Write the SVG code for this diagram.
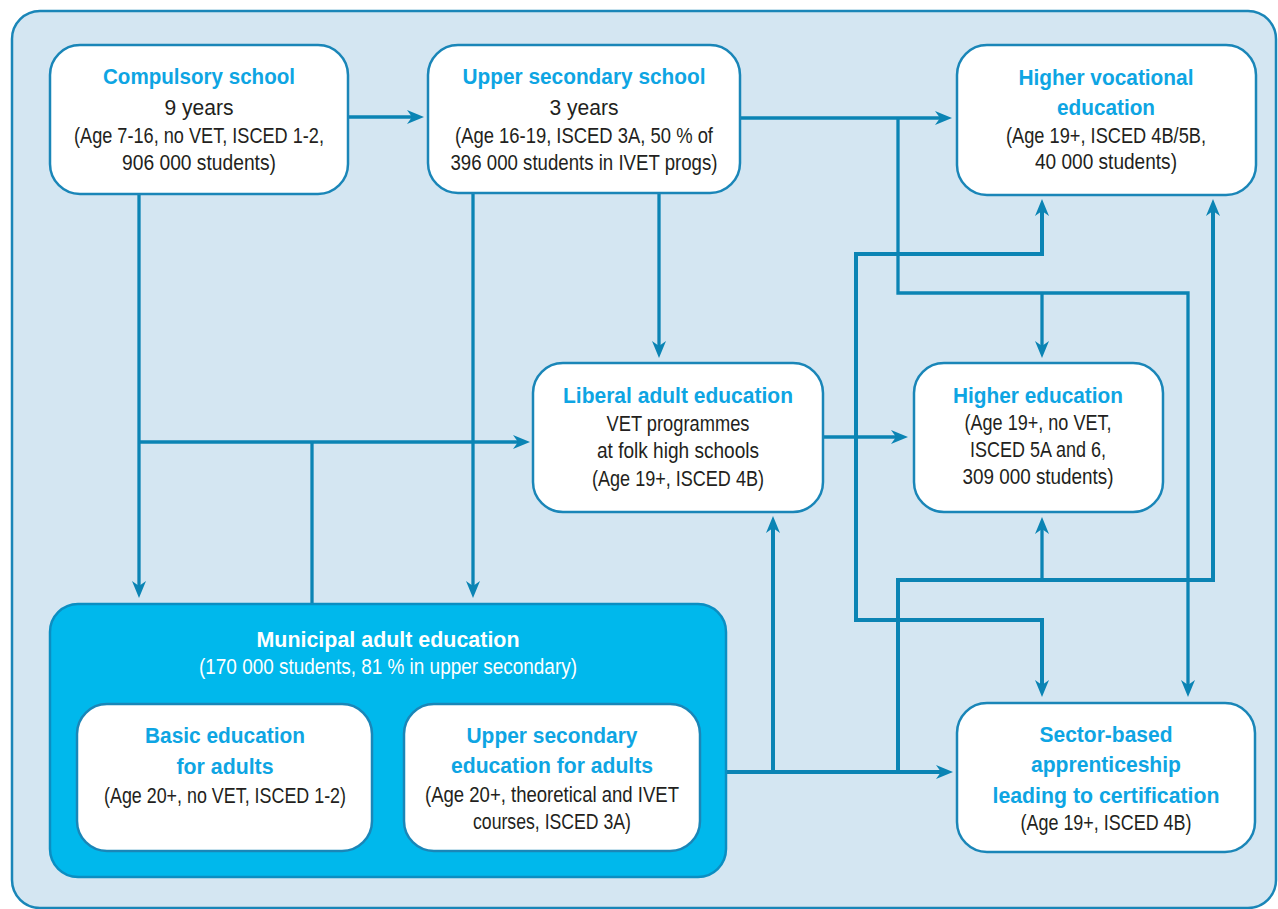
<svg xmlns="http://www.w3.org/2000/svg" width="1278" height="909" viewBox="0 0 1278 909">
  <style>
    .frame { fill: #d4e6f2; stroke: #1a86b8; stroke-width: 2.5; }
    .box { fill: #ffffff; stroke: #1a86b8; stroke-width: 2.5; }
    .hub { fill: #00b8ec; stroke: #0b8ec2; stroke-width: 2.5; }
    text { font-family: "Liberation Sans Narrow", "Liberation Sans", Arial, sans-serif; text-anchor: middle; }
    .t { font-size: 22.5px; font-weight: bold; fill: #0ea5e3; }
    .b { font-size: 22px; fill: #231f20; }
    .tw { font-size: 22.5px; font-weight: bold; fill: #ffffff; }
    .bw { font-size: 22px; fill: #ffffff; }
    .link { fill: none; stroke: #0b84b4; stroke-width: 3.3; marker-end: url(#ah); }
    .link.plain { marker-end: none; }
    .link.both { marker-start: url(#ah); }
    .link.thick { stroke-width: 4; }
  </style>
  <defs>
    <!-- notched arrowhead; refX puts the line end at the notch so the tip stays sharp -->
    <marker id="ah" viewBox="-18 -8 19 16" refX="-12" refY="0" markerWidth="19" markerHeight="16" markerUnits="userSpaceOnUse" orient="auto-start-reverse">
      <path d="M0,0 L-17,-7 L-12,0 L-17,7 Z" fill="#0b84b4"/>
    </marker>
  </defs>

  <!-- background panel -->
  <rect class="frame" x="12" y="11" width="1264" height="897" rx="28"/>

  <!-- connectors -->
  <g id="connectors">
    <path class="link" d="M348,117 H412"/>
    <path class="link" d="M740,118 H940"/>
    <path class="link" d="M898,118 V293 H1188 V685"/>
    <path class="link" d="M1042,293 V346"/>
    <path class="link" d="M659,193 V346"/>
    <path class="link" d="M473,193 V586"/>
    <path class="link" d="M139,194 V586"/>
    <path class="link" d="M139,442 H518"/>
    <path class="link plain" d="M312,604 V442"/>
    <path class="link thick" d="M726,772 H941"/>
    <path class="link thick" d="M773,772 V528"/>
    <path class="link thick" d="M898,772 V580 H1213 V211"/>
    <path class="link" d="M1042,580 V529"/>
    <path class="link" d="M823,437 H896"/>
    <path class="link both thick" d="M1042,211 V254 H856 V620 H1042 V685"/>
  </g>

  <g id="compulsory-school">
    <rect class="box" x="50" y="45" width="298" height="149" rx="30"/>
    <text class="t" x="199" y="84" textLength="192" lengthAdjust="spacingAndGlyphs">Compulsory school</text>
    <text class="b" x="199" y="115" textLength="69" lengthAdjust="spacingAndGlyphs">9 years</text>
    <text class="b" x="199" y="143" textLength="250" lengthAdjust="spacingAndGlyphs">(Age 7-16, no VET, ISCED 1-2,</text>
    <text class="b" x="199" y="170" textLength="154" lengthAdjust="spacingAndGlyphs">906 000 students)</text>
  </g>

  <g id="upper-secondary-school">
    <rect class="box" x="428" y="45" width="312" height="148" rx="30"/>
    <text class="t" x="584" y="84" textLength="243" lengthAdjust="spacingAndGlyphs">Upper secondary school</text>
    <text class="b" x="584" y="115" textLength="69" lengthAdjust="spacingAndGlyphs">3 years</text>
    <text class="b" x="584" y="143" textLength="258" lengthAdjust="spacingAndGlyphs">(Age 16-19, ISCED 3A, 50 % of</text>
    <text class="b" x="584" y="170" textLength="267" lengthAdjust="spacingAndGlyphs">396 000 students in IVET progs)</text>
  </g>

  <g id="higher-vocational-education">
    <rect class="box" x="957" y="45" width="299" height="150" rx="30"/>
    <text class="t" x="1106" y="85" textLength="175" lengthAdjust="spacingAndGlyphs">Higher vocational</text>
    <text class="t" x="1106" y="115" textLength="98" lengthAdjust="spacingAndGlyphs">education</text>
    <text class="b" x="1106" y="143" textLength="200" lengthAdjust="spacingAndGlyphs">(Age 19+, ISCED 4B/5B,</text>
    <text class="b" x="1106" y="169" textLength="142" lengthAdjust="spacingAndGlyphs">40 000 students)</text>
  </g>

  <g id="liberal-adult-education">
    <rect class="box" x="533" y="363" width="290" height="149" rx="30"/>
    <text class="t" x="678" y="403" textLength="230" lengthAdjust="spacingAndGlyphs">Liberal adult education</text>
    <text class="b" x="678" y="431" textLength="143" lengthAdjust="spacingAndGlyphs">VET programmes</text>
    <text class="b" x="678" y="458" textLength="162" lengthAdjust="spacingAndGlyphs">at folk high schools</text>
    <text class="b" x="678" y="486" textLength="172" lengthAdjust="spacingAndGlyphs">(Age 19+, ISCED 4B)</text>
  </g>

  <g id="higher-education">
    <rect class="box" x="914" y="363" width="249" height="149" rx="30"/>
    <text class="t" x="1038" y="403" textLength="170" lengthAdjust="spacingAndGlyphs">Higher education</text>
    <text class="b" x="1038" y="430" textLength="147" lengthAdjust="spacingAndGlyphs">(Age 19+, no VET,</text>
    <text class="b" x="1038" y="457" textLength="136" lengthAdjust="spacingAndGlyphs">ISCED 5A and 6,</text>
    <text class="b" x="1038" y="484" textLength="151" lengthAdjust="spacingAndGlyphs">309 000 students)</text>
  </g>

  <g id="municipal-adult-education">
    <rect class="hub" x="50" y="604" width="676" height="273" rx="28"/>
    <text class="tw" x="388" y="647" textLength="263" lengthAdjust="spacingAndGlyphs">Municipal adult education</text>
    <text class="bw" x="388" y="674" textLength="378" lengthAdjust="spacingAndGlyphs">(170 000 students, 81 % in upper secondary)</text>
  </g>

  <g id="basic-education-for-adults">
    <rect class="box" x="77" y="704" width="295" height="147" rx="30"/>
    <text class="t" x="225" y="743" textLength="160" lengthAdjust="spacingAndGlyphs">Basic education</text>
    <text class="t" x="225" y="774" textLength="97" lengthAdjust="spacingAndGlyphs">for adults</text>
    <text class="b" x="225" y="803" textLength="242" lengthAdjust="spacingAndGlyphs">(Age 20+, no VET, ISCED 1-2)</text>
  </g>

  <g id="upper-secondary-education-for-adults">
    <rect class="box" x="404" y="704" width="296" height="147" rx="30"/>
    <text class="t" x="552" y="743" textLength="171" lengthAdjust="spacingAndGlyphs">Upper secondary</text>
    <text class="t" x="552" y="773" textLength="202" lengthAdjust="spacingAndGlyphs">education for adults</text>
    <text class="b" x="552" y="802" textLength="254" lengthAdjust="spacingAndGlyphs">(Age 20+, theoretical and IVET</text>
    <text class="b" x="552" y="829" textLength="158" lengthAdjust="spacingAndGlyphs">courses, ISCED 3A)</text>
  </g>

  <g id="sector-based-apprenticeship">
    <rect class="box" x="957" y="703" width="298" height="149" rx="30"/>
    <text class="t" x="1106" y="742" textLength="133" lengthAdjust="spacingAndGlyphs">Sector-based</text>
    <text class="t" x="1106" y="772" textLength="150" lengthAdjust="spacingAndGlyphs">apprenticeship</text>
    <text class="t" x="1106" y="803" textLength="227" lengthAdjust="spacingAndGlyphs">leading to certification</text>
    <text class="b" x="1106" y="830" textLength="171" lengthAdjust="spacingAndGlyphs">(Age 19+, ISCED 4B)</text>
  </g>
</svg>
